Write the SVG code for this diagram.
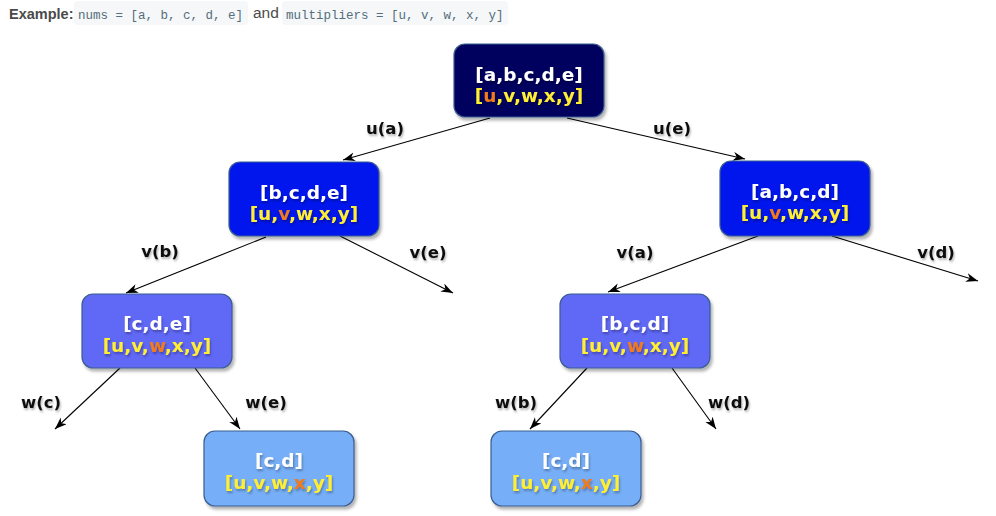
<svg xmlns="http://www.w3.org/2000/svg" width="996" height="516" viewBox="0 0 996 516">
<defs>
<filter id="bs" x="-10%" y="-10%" width="130%" height="140%"><feDropShadow dx="2" dy="3" stdDeviation="1.5" flood-color="#000" flood-opacity="0.3"/></filter>
<filter id="ts" x="-20%" y="-30%" width="150%" height="170%"><feDropShadow dx="1" dy="2" stdDeviation="1.2" flood-color="#000" flood-opacity="0.3"/></filter>
<marker id="ah" markerUnits="userSpaceOnUse" markerWidth="14" markerHeight="10" refX="12" refY="4.5" orient="auto" viewBox="0 0 14 10"><path d="M0,0 L12,4.5 L0,9 L3.5,4.5 Z" fill="#000"/></marker>
</defs>
<style>
.hdr{font-family:"Liberation Sans",Arial,sans-serif;fill:#4a4a4a}
.code{font-family:"Liberation Mono","DejaVu Sans Mono",monospace;font-size:12.5px;fill:#546e7a}
.pill{fill:#f5f7f9}
.box{stroke:#3a5d8f;stroke-width:1.2;filter:url(#bs)}
.t1{font-family:"DejaVu Sans",sans-serif;font-weight:bold;font-size:18.5px;fill:#fff;text-anchor:middle;filter:url(#ts)}
.t2{font-family:"DejaVu Sans",sans-serif;font-weight:bold;font-size:18.5px;fill:#ffee33;text-anchor:middle;filter:url(#ts)}
.hl{fill:#f07a1a}
.lbl{font-family:"DejaVu Sans",sans-serif;font-weight:bold;font-size:16.5px;fill:#111;text-anchor:middle;filter:url(#ts)}
.edge{stroke:#000;stroke-width:1.1;fill:none;marker-end:url(#ah)}
</style>
<rect width="996" height="516" fill="#fff"/>
<g id="header">
<text class="hdr" x="9" y="19" font-size="14.5" font-weight="bold">Example:</text>
<rect class="pill" x="74" y="1" width="174" height="24" rx="4"/>
<text class="code" x="78" y="19">nums = [a, b, c, d, e]</text>
<text class="hdr" x="253" y="18" font-size="15.5">and</text>
<rect class="pill" x="282" y="1" width="226" height="24" rx="4"/>
<text class="code" x="286" y="19">multipliers = [u, v, w, x, y]</text>
</g>
<g id="connectors">
<line class="edge" x1="490" y1="118" x2="343" y2="160"/>
<line class="edge" x1="567" y1="118" x2="745" y2="159"/>
<line class="edge" x1="266" y1="237" x2="126" y2="293"/>
<line class="edge" x1="340" y1="236" x2="453" y2="293"/>
<line class="edge" x1="758" y1="236" x2="608" y2="292"/>
<line class="edge" x1="832" y1="236" x2="978" y2="281"/>
<line class="edge" x1="120" y1="368" x2="55" y2="429"/>
<line class="edge" x1="195" y1="368" x2="240" y2="429"/>
<line class="edge" x1="587" y1="368" x2="530" y2="429"/>
<line class="edge" x1="672" y1="368" x2="716" y2="429"/>
<text class="lbl" x="385" y="134">u(a)</text>
<text class="lbl" x="672" y="134">u(e)</text>
<text class="lbl" x="160" y="257">v(b)</text>
<text class="lbl" x="428" y="258">v(e)</text>
<text class="lbl" x="635" y="258">v(a)</text>
<text class="lbl" x="936" y="258">v(d)</text>
<text class="lbl" x="41" y="408">w(c)</text>
<text class="lbl" x="266" y="408">w(e)</text>
<text class="lbl" x="516" y="408">w(b)</text>
<text class="lbl" x="729" y="408">w(d)</text>
</g>
<g id="n0">
<rect class="box" x="454" y="44" width="150" height="73" rx="11" fill="#00005e"/>
<text class="t1" x="529" y="81">[a,b,c,d,e]</text>
<text class="t2" x="529" y="102">[<tspan class="hl">u</tspan>,v,w,x,y]</text>
</g>
<g id="n1">
<rect class="box" x="229" y="162" width="150" height="74" rx="11" fill="#0014ec"/>
<text class="t1" x="304" y="199">[b,c,d,e]</text>
<text class="t2" x="304" y="220">[u,<tspan class="hl">v</tspan>,w,x,y]</text>
</g>
<g id="n2">
<rect class="box" x="720" y="161" width="150" height="75" rx="11" fill="#0014ec"/>
<text class="t1" x="795" y="198">[a,b,c,d]</text>
<text class="t2" x="795" y="219">[u,<tspan class="hl">v</tspan>,w,x,y]</text>
</g>
<g id="n3">
<rect class="box" x="82" y="294" width="150" height="74" rx="11" fill="#6168f6"/>
<text class="t1" x="157" y="330">[c,d,e]</text>
<text class="t2" x="157" y="352">[u,v,<tspan class="hl">w</tspan>,x,y]</text>
</g>
<g id="n4">
<rect class="box" x="560" y="294" width="150" height="74" rx="11" fill="#6168f6"/>
<text class="t1" x="635" y="330">[b,c,d]</text>
<text class="t2" x="635" y="352">[u,v,<tspan class="hl">w</tspan>,x,y]</text>
</g>
<g id="n5">
<rect class="box" x="204" y="431" width="150" height="75" rx="11" fill="#76aef7"/>
<text class="t1" x="279" y="467">[c,d]</text>
<text class="t2" x="279" y="489">[u,v,w,<tspan class="hl">x</tspan>,y]</text>
</g>
<g id="n6">
<rect class="box" x="491" y="431" width="150" height="75" rx="11" fill="#76aef7"/>
<text class="t1" x="566" y="467">[c,d]</text>
<text class="t2" x="566" y="489">[u,v,w,<tspan class="hl">x</tspan>,y]</text>
</g>
</svg>
